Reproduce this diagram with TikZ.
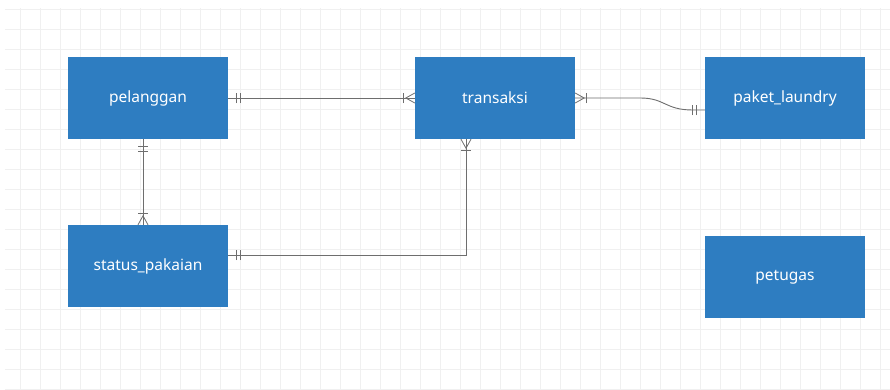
\documentclass[tikz,border=0pt]{standalone}
\usepackage{fontspec}
\setmainfont{Noto Sans}
\definecolor{entblue}{RGB}{46,125,193}
\definecolor{linegray}{RGB}{110,110,110}
\definecolor{gridgray}{RGB}{240,240,240}
\begin{document}
\begin{tikzpicture}[x=1pt,y=1pt,
  entity/.style={draw=none,fill=entblue,text=white,minimum width=160pt,minimum height=82pt,inner sep=0pt,font=\fontsize{15.5}{18}\selectfont},
  rel/.style={draw=linegray,line width=0.9pt},
  mk/.style={draw=linegray,line width=0.8pt}]
\useasboundingbox (0,0) rectangle (890,389);
\fill[white] (0,0) rectangle (890,389);
\draw[gridgray,line width=0.4pt,step=20] (5,0) grid (890,381);
\node[entity] (pel) at (148,291) {pelanggan};
\node[entity] (tra) at (495,291) {transaksi};
\node[entity] (pak) at (785,291) {paket\_laundry};
\node[entity] (sta) at (148,123) {status\_pakaian};
\node[entity] (pet) at (785,112) {petugas};
% pelanggan -- transaksi
\draw[rel] (pel.east) -- (tra.west);
\draw[mk] ([xshift=8,yshift=-5]pel.east) -- ++(0,10);
\draw[mk] ([xshift=12,yshift=-5]pel.east) -- ++(0,10);
\draw[mk] ([xshift=-11,yshift=-5]tra.west) -- ++(0,10);
\draw[mk] ([yshift=-5]tra.west) -- ([xshift=-9]tra.west) -- ([yshift=5]tra.west);
% transaksi -- paket_laundry
\coordinate (pw) at ([yshift=-12]pak.west);
\draw[rel] (tra.east) -- ([xshift=65]tra.east) .. controls ([xshift=90]tra.east) and ([xshift=-40]pw) .. ([xshift=-12]pw) -- (pw);
\draw[mk] ([xshift=11,yshift=-5]tra.east) -- ++(0,10);
\draw[mk] ([yshift=-5]tra.east) -- ([xshift=9]tra.east) -- ([yshift=5]tra.east);
\draw[mk] ([xshift=-8,yshift=-5]pw) -- ++(0,10);
\draw[mk] ([xshift=-12,yshift=-5]pw) -- ++(0,10);
% pelanggan -- status_pakaian
\coordinate (pb) at ([xshift=-5]pel.south);
\coordinate (st) at ([xshift=-5]sta.north);
\draw[rel] (pb) -- (st);
\draw[mk] ([xshift=-5,yshift=-7]pb) -- ++(10,0);
\draw[mk] ([xshift=-5,yshift=-12]pb) -- ++(10,0);
\draw[mk] ([xshift=-5,yshift=11]st) -- ++(10,0);
\draw[mk] ([xshift=-5]st) -- ([yshift=9]st) -- ([xshift=5]st);
% status_pakaian -- transaksi
\coordinate (ts) at ([xshift=-29]tra.south);
\coordinate (se) at ([yshift=11]sta.east);
\draw[rel] (se) -| (ts);
\draw[mk] ([xshift=8,yshift=-5]se) -- ++(0,10);
\draw[mk] ([xshift=12,yshift=-5]se) -- ++(0,10);
\draw[mk] ([xshift=-5,yshift=-11]ts) -- ++(10,0);
\draw[mk] ([xshift=-5]ts) -- ([yshift=-9]ts) -- ([xshift=5]ts);
\end{tikzpicture}
\end{document}
